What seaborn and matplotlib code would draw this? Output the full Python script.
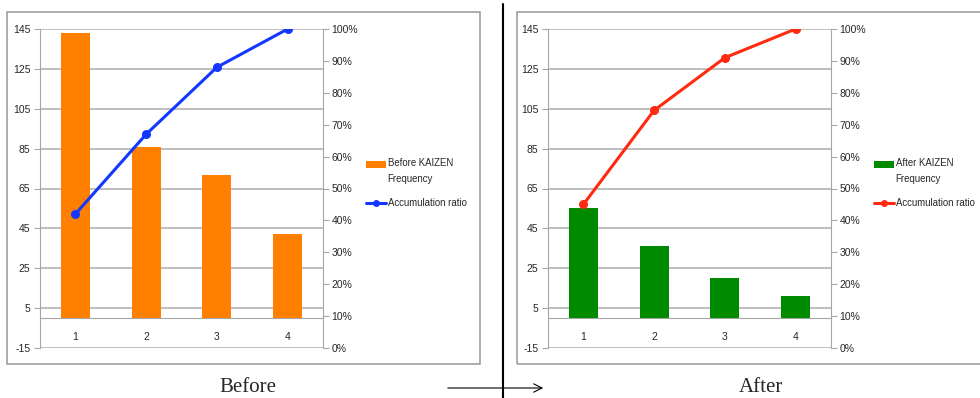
import numpy as np
import pandas as pd
import seaborn as sns
import matplotlib
matplotlib.use("Agg")
import matplotlib.pyplot as plt
from matplotlib.patches import Rectangle, Patch, FancyArrowPatch
from matplotlib.lines import Line2D
from matplotlib.legend_handler import HandlerPatch

# ---- data ----
categories = ["1", "2", "3", "4"]
before_freq = [143, 86, 72, 42]
before_ratio = [0.42, 0.67, 0.88, 1.00]
after_freq = [55, 36, 20, 11]
after_ratio = [0.45, 0.745, 0.91, 1.00]
left_ticks = [-15, 5, 25, 45, 65, 85, 105, 125, 145]
right_ticks = [0.0, 0.1, 0.2, 0.3, 0.4, 0.5, 0.6, 0.7, 0.8, 0.9, 1.0]
bar_labels = ["Before KAIZEN\nFrequency", "After KAIZEN\nFrequency"]
line_label = "Accumulation ratio"
titles = ["Before", "After"]

sns.set_style("white")
SANS = ["Liberation Sans", "DejaVu Sans"]
plt.rcParams["font.family"] = SANS
plt.rcParams["axes.unicode_minus"] = False

W, H = 980, 398
fig = plt.figure(figsize=(W / 100, H / 100), dpi=100)

GRID = "#b3b3b3"
SPINE = "#a6a6a6"
FS = 7.5
LFS = 6.9


def fx(px):
    return px / W


def fy(py):
    return 1 - py / H


def raised_patch(legend, orig_handle, xdescent, ydescent, width, height, fontsize):
    return Rectangle((-xdescent, -ydescent + 5.2), width, height)


def panel(ax_left_px, freq, ratio, bar_color, line_color, bar_label, leg_x_px):
    ax = fig.add_axes([fx(ax_left_px), fy(348), fx(283), fy(29) - fy(348)])
    df = pd.DataFrame({"cat": categories, "freq": freq})
    sns.barplot(data=df, x="cat", y="freq", color=bar_color, width=0.41,
                saturation=1, linewidth=0, ax=ax, zorder=3)
    ax.set_xlim(-0.5, 3.5)
    ax.set_ylim(-15, 145)
    ax.set_yticks(left_ticks)
    ax.grid(axis="y", color=GRID, linewidth=1.2, zorder=0)
    ax.set_axisbelow(True)
    ax.set_xlabel("")
    ax.set_ylabel("")
    for s in ["top", "right"]:
        ax.spines[s].set_visible(False)
    ax.spines["left"].set_color(SPINE)
    ax.spines["bottom"].set_color(SPINE)
    ax.spines["bottom"].set_position(("data", 0))
    ax.tick_params(axis="y", length=4, color=SPINE, labelsize=FS, pad=3)
    ax.tick_params(axis="x", which="major", length=0, labelsize=FS, pad=10)
    ax.set_xticks([0.5, 1.5, 2.5], minor=True)
    ax.tick_params(axis="x", which="minor", length=3, color=SPINE)

    ax2 = ax.twinx()
    pos = np.arange(len(categories))
    sns.lineplot(x=pos, y=ratio, color=line_color, linewidth=2.2, marker="o",
                 markersize=6.5, markeredgewidth=0, ax=ax2, zorder=5)
    ax2.set_ylim(0, 1.0)
    ax2.set_yticks(right_ticks)
    ax2.set_yticklabels([f"{int(round(t * 100))}%" for t in right_ticks])
    ax2.set_xlim(-0.5, 3.5)
    for s in ["top", "left", "bottom"]:
        ax2.spines[s].set_visible(False)
    ax2.spines["right"].set_color(SPINE)
    ax2.tick_params(axis="y", length=4, color=SPINE, labelsize=FS, pad=2)
    ax2.set_ylabel("")

    bar_handle = Patch(facecolor=bar_color, edgecolor="none")
    handles = [bar_handle,
               Line2D([0], [0], color=line_color, linewidth=2.2, marker="o",
                      markersize=5, markeredgewidth=0)]
    leg = ax2.legend(handles, [bar_label, line_label], loc="upper left",
                     bbox_to_anchor=(fx(leg_x_px), fy(158)),
                     bbox_transform=fig.transFigure, frameon=False, fontsize=LFS,
                     handlelength=2.1, handletextpad=0.15, labelspacing=1.5,
                     borderaxespad=0, borderpad=0,
                     handler_map={bar_handle: HandlerPatch(patch_func=raised_patch)})
    for t in leg.get_texts():
        t.set_linespacing(1.72)
    return ax, ax2


panel(40, before_freq, before_ratio, "#ff7f00", "#1238ff", bar_labels[0], 366)
panel(548, after_freq, after_ratio, "#008a00", "#ff2a10", bar_labels[1], 874)

# outer frames
fig.add_artist(Rectangle((fx(7), fy(364)), fx(473), fy(12) - fy(364),
                         transform=fig.transFigure, fill=False,
                         edgecolor="#a0a0a0", linewidth=1.2))
fig.add_artist(Rectangle((fx(517), fy(364)), fx(470), fy(12) - fy(364),
                         transform=fig.transFigure, fill=False,
                         edgecolor="#a0a0a0", linewidth=1.2))

# divider and arrow
fig.add_artist(Line2D([fx(503), fx(503)], [fy(4), fy(398)],
                      transform=fig.transFigure, color="black", linewidth=1.5))
fig.add_artist(FancyArrowPatch(
    (fx(445), fy(388)), (fx(546), fy(388)), transform=fig.transFigure,
    arrowstyle="->,head_length=6,head_width=3", color="black", linewidth=0.8,
    mutation_scale=1))

fig.text(fx(248), fy(388), titles[0], ha="center", va="center",
         fontsize=15, family=["Liberation Serif", "DejaVu Serif"])
fig.text(fx(761), fy(388), titles[1], ha="center", va="center",
         fontsize=15, family=["Liberation Serif", "DejaVu Serif"])

fig.savefig("out.png", dpi=100)
